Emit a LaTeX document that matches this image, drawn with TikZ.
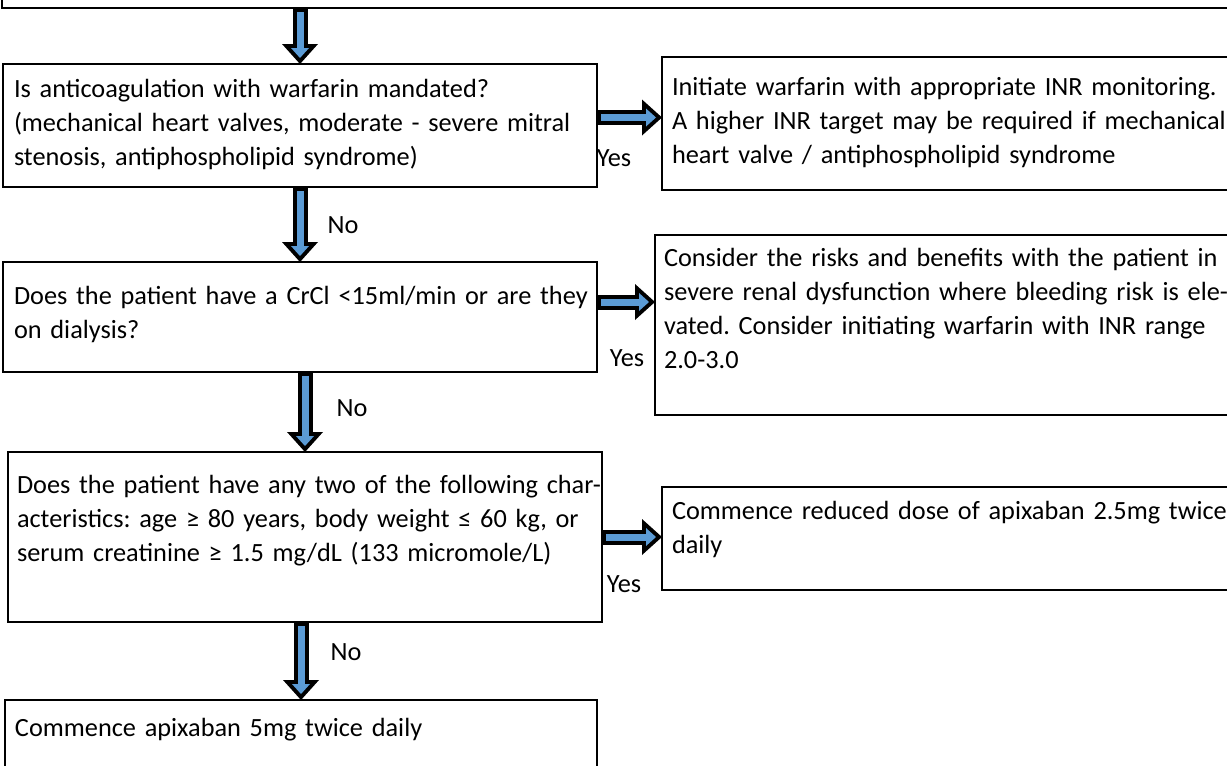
\documentclass[tikz,border=0pt]{standalone}
\usepackage{fontspec}
\setmainfont{Carlito}
\usetikzlibrary{positioning,arrows.meta}
\definecolor{arrowblue}{HTML}{5B9BD5}

\begin{document}
\begin{tikzpicture}[x=1pt, y=-1pt,
    box/.style={draw, line width=2.2pt, anchor=north west, align=left, inner ysep=0pt, outer sep=0pt,
      font=\fontsize{26.3}{34}\selectfont\frenchspacing, execute at begin node={\rightskip=0pt minus 100pt}},
    lbl/.style={font=\fontsize{26.3}{34}\selectfont, inner sep=0pt},
    fatout/.style={draw=black, line width=15pt, -{Triangle[length=20pt,width=36pt,line width=0pt]}},
    fatin/.style={draw=arrowblue, line width=7pt, shorten <=4pt, shorten >=6pt,
      -{Triangle[length=10pt,width=18pt,line width=0pt]}}]
    \useasboundingbox (0,0) rectangle (1227,766);
    \clip (0,0) rectangle (1227,766);
    % boxes, left column
    \node[box, anchor=south west, inner xsep=0pt, text width=1240pt, text height=60pt, text depth=0pt] (start) at (2,8) {};
    \node[box, inner xsep=11pt, text width=572pt, text height=33pt, text depth=90pt] (q1) at (3,64)
      {Is anticoagulation with warfarin mandated?\\(mechanical heart valves, moderate - severe mitral\\stenosis, antiphospholipid syndrome)};
    \node[box, inner xsep=11pt, text width=572pt, text height=42pt, text depth=68pt] (q2) at (3,262)
      {Does the patient have a CrCl <15ml/min or are they\\on dialysis?};
    \node[box, inner xsep=9pt, text width=576pt, text height=41pt, text depth=129pt] (q3) at (8,452)
      {Does the patient have any two of the following char-\\acteristics: age ≥ 80 years, body weight ≤ 60 kg, or\\serum creatinine ≥ 1.5 mg/dL (133 micromole/L)};
    \node[box, inner xsep=10pt, text width=572pt, text height=36pt, text depth=100pt] (dose) at (5,700)
      {Commence apixaban 5mg twice daily};
    % boxes, right column
    \node[box, inner xsep=10pt, text width=600pt, text height=38pt, text depth=95pt] (r1) at (662,57)
      {Initiate warfarin with appropriate INR monitoring.\\A higher INR target may be required if mechanical\\heart valve / antiphospholipid syndrome};
    \node[box, inner xsep=9pt, text width=600pt, text height=31pt, text depth=149pt] (r2) at (655,235)
      {Consider the risks and benefits with the patient in\\severe renal dysfunction where bleeding risk is ele-\\vated. Consider initiating warfarin with INR range\\2.0-3.0};
    \node[box, inner xsep=10pt, text width=600pt, text height=32pt, text depth=71pt] (r3) at (662,487)
      {Commence reduced dose of apixaban 2.5mg twice\\daily};
    % arrows
    \draw[fatout] (q1.north |- start.south) -- (q1.north);
    \draw[fatin]  (q1.north |- start.south) -- (q1.north);
    \draw[fatout] (q1.south) -- (q2.north);
    \draw[fatin]  (q1.south) -- (q2.north);
    \draw[fatout] (q3.north |- q2.south) -- (q3.north);
    \draw[fatin]  (q3.north |- q2.south) -- (q3.north);
    \draw[fatout] (dose.north |- q3.south) -- (dose.north);
    \draw[fatin]  (dose.north |- q3.south) -- (dose.north);
    \draw[fatout] ([yshift=8pt]q1.east) -- ([yshift=8pt]q1.east -| r1.west);
    \draw[fatin]  ([yshift=8pt]q1.east) -- ([yshift=8pt]q1.east -| r1.west);
    \draw[fatout] ([yshift=15pt]q2.east) -- ([yshift=15pt]q2.east -| r2.west);
    \draw[fatin]  ([yshift=15pt]q2.east) -- ([yshift=15pt]q2.east -| r2.west);
    \draw[fatout] (q3.east) -- (q3.east -| r3.west);
    \draw[fatin]  (q3.east) -- (q3.east -| r3.west);
    % labels
    \node[lbl] (yes1) at (614,158) {Yes};
    \node[lbl] (yes2) at (627,358) {Yes};
    \node[lbl] (yes3) at (624,584) {Yes};
    \node[lbl] (no1) at (343,225) {No};
    \node[lbl] (no2) at (352,408) {No};
    \node[lbl] (no3) at (346,652) {No};
\end{tikzpicture}
\end{document}
